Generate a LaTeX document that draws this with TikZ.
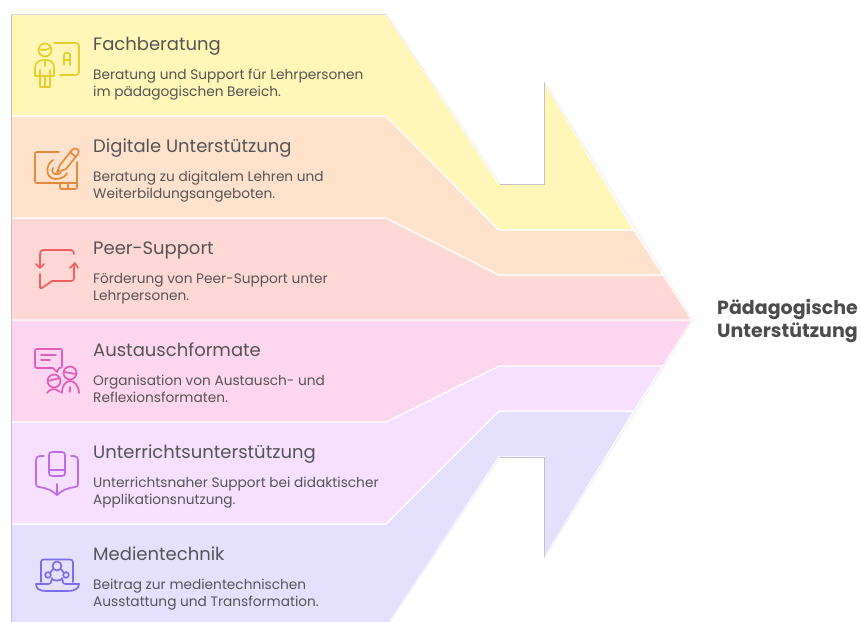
\documentclass[tikz,border=0pt]{standalone}
\usepackage{fontspec}
\setmainfont{Poppins}
\definecolor{cA}{HTML}{FFF6B8}
\definecolor{cB}{HTML}{FFE2CC}
\definecolor{cC}{HTML}{FFD8D6}
\definecolor{cD}{HTML}{FFD6F0}
\definecolor{cE}{HTML}{F6DFFF}
\definecolor{cF}{HTML}{E6E0FF}
\definecolor{iA}{HTML}{E6CF2A}
\definecolor{iB}{HTML}{E58A3C}
\definecolor{iC}{HTML}{EF5F5F}
\definecolor{iD}{HTML}{E25CB8}
\definecolor{iE}{HTML}{BC6BEB}
\definecolor{iF}{HTML}{7C6CF0}
\definecolor{ink}{HTML}{555555}
\tikzset{x=1pt,y=-1pt,
 band/.style={draw=white,line width=1.3pt,line join=round},
 hd/.style={anchor=base west,inner sep=0pt,text=ink,font=\fontsize{18}{20}\selectfont},
 bd/.style={anchor=north west,inner sep=0pt,text=ink,align=left,font=\fontsize{13.7}{17}\selectfont},
 ic/.style={line width=1.7pt,line cap=round,line join=round}}
\begin{document}
\begin{tikzpicture}
\useasboundingbox (0,0) rectangle (861,621);
\fill[white] (0,0) rectangle (861,621);
\begin{scope}
\clip (0,0) rectangle (861,621);
\draw[band,fill=cF] (11,524) -- (386,524) -- (499,411) -- (634,411) -- (544,558) -- (544,457) -- (499,457) -- (386,627) -- (11,627) -- cycle;
\draw[band,fill=cE] (11,422) -- (386,422) -- (499,366) -- (663,366) -- (634,411) -- (499,411) -- (386,524) -- (11,524) -- cycle;
\draw[band,fill=cD] (11,320) -- (692,320) -- (663,366) -- (499,366) -- (386,422) -- (11,422) -- cycle;
\draw[band,fill=cC] (11,218) -- (386,218) -- (499,275) -- (663,275) -- (692,320) -- (11,320) -- cycle;
\draw[band,fill=cB] (11,116) -- (386,116) -- (499,230) -- (634,230) -- (663,275) -- (499,275) -- (386,218) -- (11,218) -- cycle;
\draw[band,fill=cA] (11,14) -- (386,14) -- (499,184) -- (544,184) -- (544,82) -- (634,230) -- (499,230) -- (386,116) -- (11,116) -- cycle;
\draw[black!24,line width=.6pt] (11,627) -- (11,14) (500,184) -- (544,184) -- (544,82) (500,457) -- (544,457) -- (544,558);
\draw[black!16,line width=.5pt] (11,14) -- (386,14);
\draw[black!12,line width=.4pt] (386,14) -- (500,184) (544,82) -- (692.5,320) -- (544,558) (500,457) -- (386,627);
\end{scope}

\node[hd] (t1) at (93,50.5) {Fachberatung};
\node[bd] (b1) at (93,69) {Beratung und Support für Lehrpersonen\\im pädagogischen Bereich.};
\node[hd] (t2) at (93,152.5) {Digitale Unterstützung};
\node[bd] (b2) at (93,171) {Beratung zu digitalem Lehren und\\Weiterbildungsangeboten.};
\node[hd] (t3) at (93,254.5) {Peer-Support};
\node[bd] (b3) at (93,273) {Förderung von Peer-Support unter\\Lehrpersonen.};
\node[hd] (t4) at (93,356.5) {Austauschformate};
\node[bd] (b4) at (93,375) {Organisation von Austausch- und\\Reflexionsformaten.};
\node[hd] (t5) at (93,458.5) {Unterrichtsunterstützung};
\node[bd] (b5) at (93,477) {Unterrichtsnaher Support bei didaktischer\\Applikationsnutzung.};
\node[hd] (t6) at (93,560.5) {Medientechnik};
\node[bd] (b6) at (93,579) {Beitrag zur medientechnischen\\Ausstattung und Transformation.};
\node[anchor=west,inner sep=0pt,align=left,text=ink!90!black,font=\bfseries\fontsize{19}{23}\selectfont] (res) at (717,321) {Pädagogische\\Unterstützung};

% Icons
\begin{scope}[ic,draw=iA]
\draw (45,50) circle (6.5);
\draw (38.5,49) .. controls (43,51) and (48,50) .. (51,47);
\draw (54,43) -- (76,43) .. controls (78,43) and (79,44) .. (79,46) -- (79,72) .. controls (79,74) and (78,75) .. (76,75) -- (60,75);
\draw (64,65) -- (64,55) .. controls (64,52) and (70,52) .. (70,55) -- (70,65) (64,60) -- (70,60);
\draw (35,76) -- (35,68) .. controls (35,62) and (39,60) .. (45,60) .. controls (51,60) and (54,62) .. (54,68) -- (54,76) -- (35,76);
\draw (40,70) -- (40,87) -- (50,87) -- (50,70) (45,76) -- (45,87) (45,60) -- (45,66);
\end{scope}
\begin{scope}[ic,draw=iB]
\draw (59,152) -- (37,152) .. controls (35.5,152) and (35,152.5) .. (35,154) -- (35,181) .. controls (35,182.5) and (35.5,183) .. (37,183) -- (77,183) -- (77,162);
\draw (60,183) -- (60,187) .. controls (60,188.5) and (60.5,189) .. (62,189) -- (75,189) .. controls (76.5,189) and (77,188.5) .. (77,187) -- (77,183) (68,183) -- (68,189);
\draw (60,165) -- (72,150) .. controls (75,146) and (81,150) .. (78,154) -- (66,169) -- (57,172) -- cycle;
\draw (70,152) -- (76,157);
\draw (53,160) .. controls (45,165) and (45,179) .. (56,179) .. controls (62,179) and (66,176) .. (67,173);
\draw (53,168) .. controls (50,174) and (57,176) .. (61,173);
\end{scope}
\begin{scope}[ic,draw=iC]
\draw (74,254) .. controls (74,252) and (73,250) .. (71,250) -- (43,250) .. controls (41,250) and (40,252) .. (40,254) -- (40,267);
\draw (36,264) -- (40,268) -- (44,264);
\draw (74,264) -- (74,278) .. controls (74,280) and (73,281) .. (71,281) -- (52,281) -- (42,288) .. controls (41,288.5) and (40,288) .. (40,287) -- (40,274);
\draw (70,268) -- (75,263) -- (78,268);
\end{scope}
\begin{scope}[ic,draw=iD]
\draw (37,349) -- (60,349) .. controls (61.5,349) and (62,349.5) .. (62,351) -- (62,366) .. controls (62,367.5) and (61.5,368) .. (60,368) -- (59,368) -- (57,372) -- (53,368) -- (37,368) .. controls (35.5,368) and (35,367.5) .. (35,366) -- (35,351) .. controls (35,349.5) and (35.5,349) .. (37,349) -- cycle;
\draw (41,355) -- (56,355) (41,360) -- (50,360);
\draw (54,381) circle (6.5) (48,381) -- (60,378);
\draw (70,373) circle (6.5) (64,372) -- (76,374);
\draw (47,393) .. controls (50,388) and (56,388) .. (60,392);
\draw (62,393) .. controls (62,377) and (78,377) .. (79,393) (70,387) -- (70,392);
\end{scope}
\begin{scope}[ic,draw=iE]
\draw (44,456) -- (40,456) .. controls (37.5,456) and (36,457.5) .. (36,460) -- (36,484) .. controls (36,486) and (37,487) .. (39,487) .. controls (46,488) and (52,490) .. (57,495) .. controls (62,490) and (68,488) .. (75,487) .. controls (77,487) and (78,486) .. (78,484) -- (78,460) .. controls (78,457.5) and (76.5,456) .. (74,456) -- (71,456);
\draw (52,452) -- (62,452) .. controls (64,452) and (65,453) .. (65,455) -- (65,473) .. controls (65,475) and (64,476) .. (62,476) -- (52,476) .. controls (50,476) and (49,475) .. (49,473) -- (49,455) .. controls (49,453) and (50,452) .. (52,452) -- cycle;
\draw (49,470) -- (65,470);
\draw (57,484) -- (57,495);
\end{scope}
\begin{scope}[ic,draw=iF]
\draw (41,582) -- (41,562) .. controls (41,560.5) and (42,559.5) .. (43.5,559.5) -- (70,559.5) .. controls (71.5,559.5) and (73,560.5) .. (73,562) -- (73,582);
\draw (57,566) circle (4.5) (48,575) circle (2.8) (66,575) circle (2.8);
\draw (50,573) -- (53,569) (64,573) -- (61,569);
\draw (36,584) -- (48,584) .. controls (52,584) and (51,581) .. (52,578) (62,578) .. controls (63,581) and (62,584) .. (66,584) -- (79,584);
\draw (36,584) .. controls (36,589) and (40,591) .. (46,591) -- (68,591) .. controls (74,591) and (79,589) .. (79,584);
\draw (52,579) .. controls (54,581) and (60,581) .. (62,579);
\end{scope}
\end{tikzpicture}
\end{document}
